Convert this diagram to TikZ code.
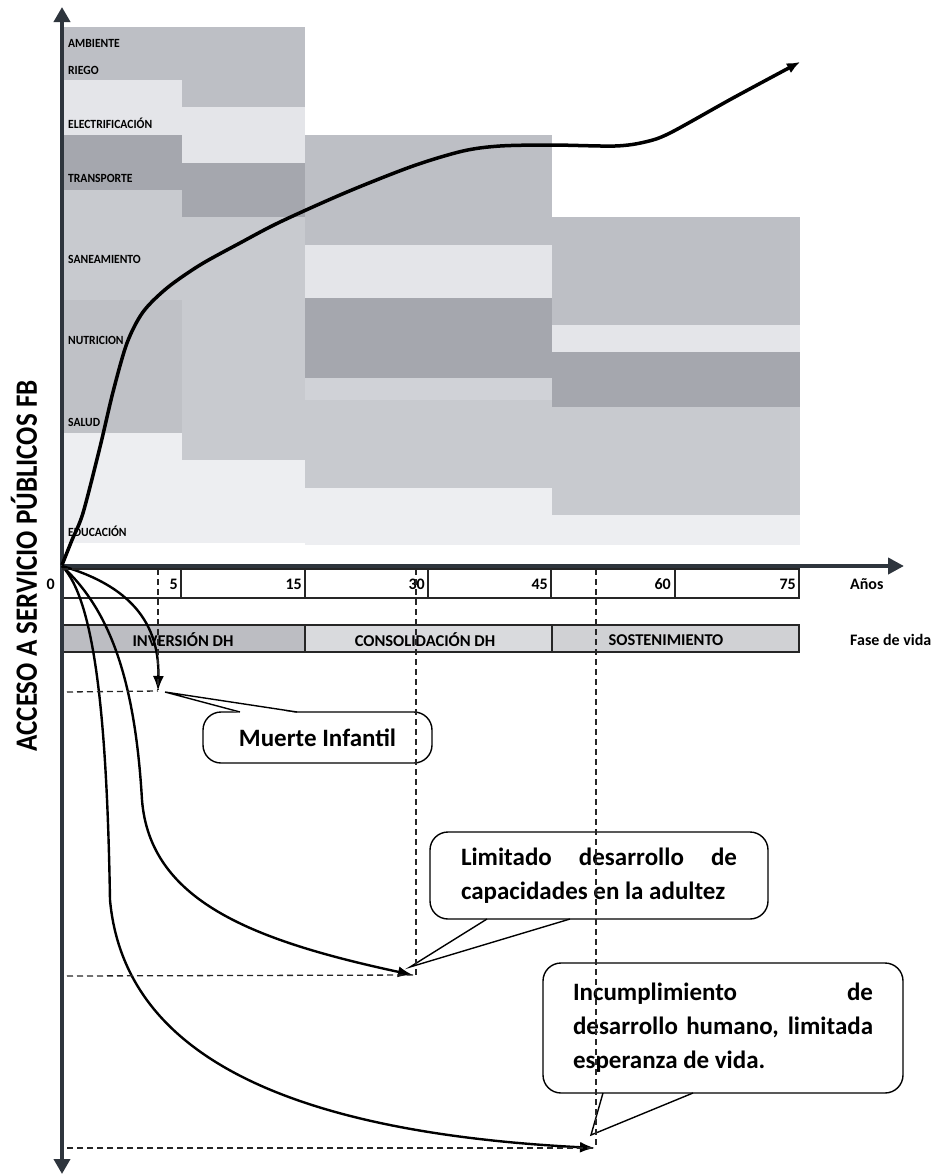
\documentclass[tikz,border=0pt]{standalone}
\usepackage{fontspec}
\setmainfont{Carlito}
\usetikzlibrary{arrows.meta}
\definecolor{cM}{HTML}{BDBFC5}
\definecolor{cL}{HTML}{E4E5E9}
\definecolor{cD}{HTML}{A5A7AE}
\definecolor{cML}{HTML}{C8CACF}
\definecolor{cVL}{HTML}{EDEEF1}
\definecolor{axiscol}{HTML}{2E353D}
\definecolor{phA}{HTML}{BCBDC2}
\definecolor{phB}{HTML}{D9DADD}
\definecolor{phC}{HTML}{D0D1D4}
\newcommand{\narrow}[1]{\scalebox{0.93}[1]{#1}}
\begin{document}
\begin{tikzpicture}[x=1pt,y=-1pt,
  lbl/.style={anchor=west, font=\fontsize{12.5}{12.5}\selectfont\bfseries, inner sep=0pt},
  num/.style={anchor=east, font=\fontsize{16}{16}\selectfont\bfseries, inner sep=0pt},
  phase/.style={font=\fontsize{16.5}{16.5}\selectfont\bfseries, inner sep=0pt},
  side/.style={anchor=west, font=\fontsize{16}{16}\selectfont\bfseries, inner sep=0pt},
  axisline/.style={draw=axiscol, line width=4.5pt},
  tablebox/.style={draw=black!85, line width=1.1pt},
  growth/.style={draw=black, line width=3.5pt, -{Latex[length=13pt,width=11pt]}},
  fall/.style={draw=black, line width=2.4pt, -{Latex[length=15pt,width=11pt]}},
  guide/.style={draw=black!85, line width=1.3pt, dash pattern=on 6pt off 4pt},
  callbox/.style={draw=black, line width=1.4pt, rounded corners=18pt, inner sep=0pt,
     font=\fontsize{25}{34}\selectfont\bfseries},
  pointer/.style={draw=black, line width=1.4pt, line join=miter}
]
\useasboundingbox (0,0) rectangle (935,1176);

% ---------- bands ----------
% column 1
\fill[cM]  (62,27)  rectangle (182,80);
\fill[cL]  (62,80)  rectangle (182,135);
\fill[cD]  (62,135) rectangle (182,190);
\fill[cML] (62,190) rectangle (182,300);
\fill[cM!85!cML] (62,300) rectangle (182,433);
\fill[cVL] (62,433) rectangle (182,543);
% column 2
\fill[cM]  (182,27)  rectangle (305,107);
\fill[cL]  (182,107) rectangle (305,163);
\fill[cD]  (182,163) rectangle (305,217);
\fill[cML] (182,217) rectangle (305,460);
\fill[cVL] (182,460) rectangle (305,543);
% column 3
\fill[cM]  (305,135) rectangle (552,245);
\fill[cL]  (305,245) rectangle (552,298);
\fill[cD]  (305,298) rectangle (552,378);
\fill[cML!70!cL] (305,378) rectangle (552,400);
\fill[cML] (305,400) rectangle (552,488);
\fill[cVL] (305,488) rectangle (552,545);
% column 4
\fill[cM]  (552,217) rectangle (800,325);
\fill[cL]  (552,325) rectangle (800,352);
\fill[cD]  (552,352) rectangle (800,407);
\fill[cML] (552,407) rectangle (800,515);
\fill[cVL] (552,515) rectangle (800,545);

% ---------- band labels ----------
\node[lbl] (amb) at (68,43)  {\narrow{AMBIENTE}};
\node[lbl] (rie) at (68,70)  {\narrow{RIEGO}};
\node[lbl] (ele) at (68,123) {\narrow{ELECTRIFICACIÓN}};
\node[lbl] (tra) at (68,178) {\narrow{TRANSPORTE}};
\node[lbl] (san) at (68,259) {\narrow{SANEAMIENTO}};
\node[lbl] (nut) at (68,340) {\narrow{NUTRICION}};
\node[lbl] (sal) at (68,422) {\narrow{SALUD}};
\node[lbl] (edu) at (68,531) {\narrow{EDUCACIÓN}};

% ---------- year table ----------
\draw[tablebox] (62,569) rectangle (799,598);
\foreach \xx in {181,305,428,551,675} \draw[tablebox] (\xx,569) -- (\xx,598);
\node[num] (n0)  at (55,584)  {0};
\node[num] (n5)  at (178,584) {5};
\node[num] (n15) at (302,584) {15};
\node[num] (n30) at (425,584) {30};
\node[num] (n45) at (548,584) {45};
\node[num] (n60) at (671,584) {60};
\node[num] (n75) at (796,584) {75};
\node[side] (anos) at (850,584) {Años};

% ---------- phase bar ----------
\filldraw[tablebox, fill=phA] (62,625) rectangle (305,652);
\filldraw[tablebox, fill=phB] (305,625) rectangle (552,652);
\filldraw[tablebox, fill=phC] (552,625) rectangle (799,652);
\node[phase] (p1) at (183,640) {INVERSIÓN DH};
\node[phase] (p2) at (425,640) {CONSOLIDACIÓN DH};
\node[phase] (p3) at (666,640) {SOSTENIMIENTO};
\node[side] (fase) at (850,640) {Fase de vida};

% ---------- axes ----------
\coordinate (O) at (62,566);
\coordinate (ytop) at (62,7);
\coordinate (ybot) at (62,1174);
\coordinate (xend) at (904,566);
\draw[axisline, {Triangle[length=15pt,width=16pt]}-{Triangle[length=15pt,width=16pt]}] (ytop) -- (ybot);
\draw[axisline, -{Triangle[length=16pt,width=16pt]}] (O) -- (xend);

\node[rotate=90, font=\fontsize{31}{31}\selectfont\bfseries, inner sep=0pt] (ylab) at (24,566)
  {\scalebox{0.87}[1]{ACCESO A SERVICIO PÚBLICOS FB}};

% ---------- growth curve ----------
\draw[growth] plot[smooth, tension=0.5] coordinates {
 (62,565) (72,540) (83,513) (100,447) (113,392) (127,343) (143,312) (167,288)
 (200,265) (240,243) (280,222) (347,192) (413,166) (463,151) (500,146)
 (552,145) (615,146) (645,142) (670,133) (733,98) (800,62)};

% ---------- callouts ----------
\node[callbox, minimum width=229pt, minimum height=51pt] (mi) at (317.5,737.5) {Muerte Infantil};
\fill[white] (240,713) -- (165,692) -- (297,713) -- cycle;
\draw[pointer] (240,712) -- (165,692) -- (297,712);

\node[callbox, minimum width=338pt, minimum height=87pt, align=left] (ld) at (599,875.5)
  {\makebox[276pt][s]{Limitado desarrollo de}\\capacidades en la adultez};
\fill[white] (487,920) -- (410,967) -- (570,920) -- cycle;
\draw[pointer] (487,919) -- (410,967) -- (570,919);

\node[callbox, minimum width=360pt, minimum height=130pt, align=left] (ic) at (723,1028)
  {\makebox[300pt][s]{Incumplimiento de}\\\makebox[300pt][s]{desarrollo humano, limitada}\\esperanza de vida.};
\fill[white] (603,1094) -- (591,1135) -- (693,1094) -- cycle;
\draw[pointer] (603,1093) -- (591,1135) -- (693,1093);

% ---------- falling curves ----------
\coordinate (tM) at (158,691);
\coordinate (tL) at (413,975);
\coordinate (tE) at (595,1148);
\draw[fall] (O) .. controls (120,583) and (160,615) .. (tM);
\draw[fall] (O) .. controls (110,610) and (135,680) .. (142,800)
                .. controls (150,900) and (250,940) .. (tL);
\draw[fall] (O) .. controls (95,600) and (107,720) .. (110,900)
                .. controls (122,1030) and (240,1130) .. (tE);

% ---------- guide lines ----------
\coordinate (g1) at (158,569);
\coordinate (g2) at (416,569);
\coordinate (g3) at (596,569);
\draw[guide] (62,569) -- (g3);
\draw[guide] (g1) -- (158,690);
\draw[guide] (g2) -- (416,975);
\draw[guide] (g3) -- (596,1148);
\draw[guide] (67,692) -- (tM);
\draw[guide] (67,976) -- (tL);
\draw[guide] (67,1148) -- (tE);
\end{tikzpicture}
\end{document}
